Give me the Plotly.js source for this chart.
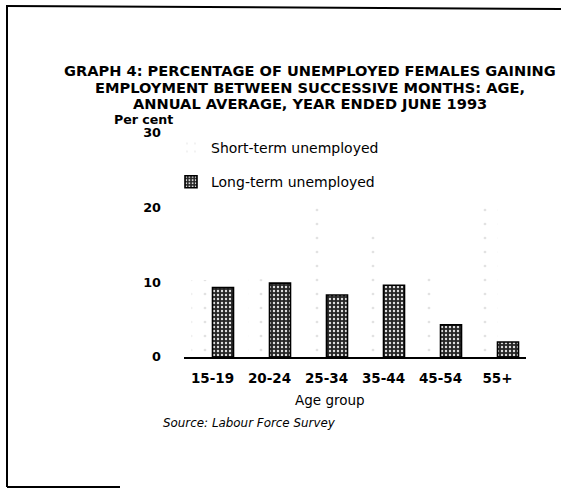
<!DOCTYPE html>
<html>
<head>
<meta charset="utf-8">
<script src="https://cdn.plot.ly/plotly-3.0.1.min.js"></script>
<style>
  html, body { margin: 0; padding: 0; background: #ffffff; }
  #chart { width: 561px; height: 488px; }
</style>
</head>
<body>
<div id="chart"></div>
<script>
// ---- data ----
const ageGroups = ["15-19", "20-24", "25-34", "35-44", "45-54", "55+"];
const shortTerm = [10.3, 10.4, 20.3, 16.2, 10.7, 20.6];   // faint in the scan, estimated
const longTerm  = [9.3, 9.9, 8.3, 9.6, 4.3, 2.0];
const yTicks = [0, 10, 20, 30];
const titleLines = [
  "GRAPH 4: PERCENTAGE OF UNEMPLOYED FEMALES GAINING",
  "EMPLOYMENT BETWEEN SUCCESSIVE MONTHS: AGE,",
  "ANNUAL AVERAGE, YEAR ENDED JUNE 1993"
];
const seriesNames = ["Short-term unemployed", "Long-term unemployed"];

// ---- layout helpers (pixel -> paper) ----
const W = 561, H = 488;
const M = { l: 184, r: 35, t: 133, b: 131 };
const PW = W - M.l - M.r, PH = H - M.t - M.b;
const px = x => (x - M.l) / PW;
const py = y => (H - M.b - y) / PH;

const FONT = "DejaVu Sans, Liberation Sans, Arial, sans-serif";

const traces = [
  {
    type: "bar",
    name: seriesNames[0],
    x: ageGroups,
    y: shortTerm,
    legendgroup: "a",
    marker: {
      color: "#ffffff",
      line: { width: 0 },
      pattern: { shape: ".", fgcolor: "#e2e2e2", bgcolor: "#ffffff", size: 14, solidity: 0.03 }
    },
    hoverinfo: "x+y"
  },
  {
    type: "bar",
    name: seriesNames[1],
    x: ageGroups,
    y: longTerm,
    legendgroup: "b",
    marker: {
      color: "#262626",
      line: { color: "#000000", width: 1.6 },
      pattern: { shape: ".", fgcolor: "#e0e0e0", bgcolor: "#262626", size: 4, solidity: 0.28, fillmode: "replace" }
    },
    hoverinfo: "x+y"
  }
];

const annotations = [];
const titleY = [70, 87, 104];
titleLines.forEach((t, i) => {
  annotations.push({
    xref: "paper", yref: "paper", x: px(310), y: py(titleY[i]),
    xanchor: "center", yanchor: "middle", showarrow: false,
    text: "<b>" + t + "</b>",
    font: { family: FONT, size: 14.6, color: "#000" }
  });
});
annotations.push({
  xref: "paper", yref: "paper", x: px(143), y: py(119),
  xanchor: "center", yanchor: "middle", showarrow: false,
  text: "<b>Per cent</b>", font: { family: FONT, size: 12.6, color: "#000" }
});
annotations.push({
  xref: "paper", yref: "paper", x: px(330), y: py(400),
  xanchor: "center", yanchor: "middle", showarrow: false,
  text: "Age group", font: { family: FONT, size: 13.5, color: "#000" }
});
annotations.push({
  xref: "paper", yref: "paper", x: px(161), y: py(423),
  xanchor: "left", yanchor: "middle", showarrow: false,
  text: "<i>Source: Labour Force Survey</i>", font: { family: FONT, size: 11.9, color: "#000" }
});

const frame = { type: "line", xref: "paper", yref: "paper", line: { color: "#000", width: 2 } };
const shapes = [
  Object.assign({}, frame, { x0: px(7), y0: py(5), x1: px(7), y1: py(487) }),
  Object.assign({}, frame, { x0: px(7), y0: py(6), x1: px(561), y1: py(9) }),
  Object.assign({}, frame, { x0: px(7), y0: py(487), x1: px(120), y1: py(487) })
];

const layout = {
  width: W, height: H,
  margin: M,
  paper_bgcolor: "#ffffff",
  plot_bgcolor: "#ffffff",
  font: { family: FONT, color: "#000" },
  barmode: "group",
  bargap: 0.263,
  bargroupgap: 0,
  showlegend: true,
  legend: {
    x: px(171), y: 1.005, xanchor: "left", yanchor: "top",
    bgcolor: "rgba(0,0,0,0)", borderwidth: 0,
    tracegroupgap: 13, traceorder: "grouped",
    font: { family: FONT, size: 14, color: "#000" }
  },
  xaxis: {
    type: "category",
    range: [-0.5, 5.5],
    showline: true, linecolor: "#000", linewidth: 2,
    showgrid: false, zeroline: false, ticks: "",
    ticklabelstandoff: 8,
    tickfont: { family: FONT, size: 13.5, color: "#000", weight: "bold" },
    fixedrange: true
  },
  yaxis: {
    range: [0, 30],
    tickvals: yTicks,
    ticktext: yTicks.map(String),
    showline: false, showgrid: false, zeroline: false, ticks: "",
    ticklabelstandoff: 22,
    tickfont: { family: FONT, size: 12.8, color: "#000", weight: "bold" },
    fixedrange: true
  },
  annotations: annotations,
  shapes: shapes
};

Plotly.newPlot("chart", traces, layout, { displayModeBar: false, staticPlot: true });
</script>
</body>
</html>
